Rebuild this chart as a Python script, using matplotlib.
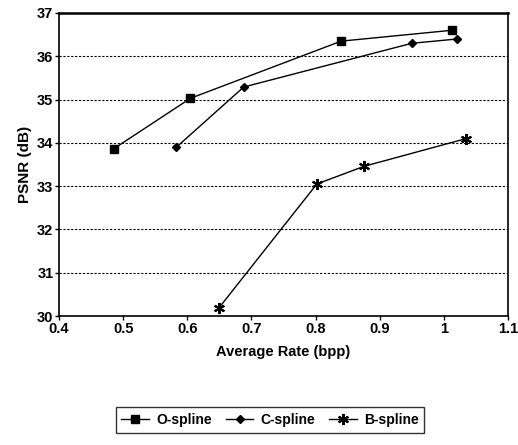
import matplotlib
matplotlib.use('Agg')
import matplotlib.pyplot as plt

# Data
o_rate = [0.485, 0.605, 0.840, 1.012]
o_psnr = [33.86, 35.03, 36.35, 36.60]
c_rate = [0.583, 0.688, 0.950, 1.021]
c_psnr = [33.90, 35.29, 36.30, 36.40]
b_rate = [0.649, 0.802, 0.876, 1.035]
b_psnr = [30.18, 33.05, 33.46, 34.10]

x_ticks = [0.4, 0.5, 0.6, 0.7, 0.8, 0.9, 1.0, 1.1]
x_labels = ['0.4', '0.5', '0.6', '0.7', '0.8', '0.9', '1', '1.1']
y_ticks = [30, 31, 32, 33, 34, 35, 36, 37]

plt.rcParams['font.family'] = ['Liberation Sans', 'DejaVu Sans']
plt.rcParams['font.weight'] = 'bold'

fig = plt.figure(figsize=(5.18, 4.45), dpi=100)
ax = fig.add_axes([59 / 518, 1 - 316 / 445, 449 / 518, 303 / 445])

ax.plot(o_rate, o_psnr, color='black', linewidth=1.0, marker='s', markersize=6,
        label='O-spline')
ax.plot(c_rate, c_psnr, color='black', linewidth=1.0, marker='D', markersize=4,
        label='C-spline')
ax.plot(b_rate, b_psnr, color='black', linewidth=1.0, marker=(6, 2, 0), markersize=8,
        markeredgewidth=1.5, label='B-spline')

ax.set_xlim(0.4, 1.1)
ax.set_ylim(30, 37)
ax.set_xticks(x_ticks)
ax.set_xticklabels(x_labels)
ax.set_yticks(y_ticks)
ax.tick_params(axis='both', labelsize=10.5, direction='out', length=3, width=1, pad=1)
ax.yaxis.grid(True, linestyle=(0, (2, 1.5)), color='black', linewidth=0.8)

for side in ['left', 'bottom', 'right']:
    ax.spines[side].set_linewidth(1.2)
ax.spines['top'].set_linewidth(1.8)

ax.set_xlabel('Average Rate (bpp)', fontsize=10.5, fontweight='bold', labelpad=7)
ax.set_ylabel('PSNR (dB)', fontsize=11, fontweight='bold', labelpad=4)

leg = fig.legend(loc='center', bbox_to_anchor=(270 / 518, 1 - 420 / 445), ncol=3,
                 fontsize=10, frameon=True, fancybox=False, edgecolor='black',
                 handlelength=2.0, columnspacing=1.0, handletextpad=0.5,
                 borderpad=0.4)
leg.get_frame().set_linewidth(1.0)

plt.savefig('out.png', dpi=100)
